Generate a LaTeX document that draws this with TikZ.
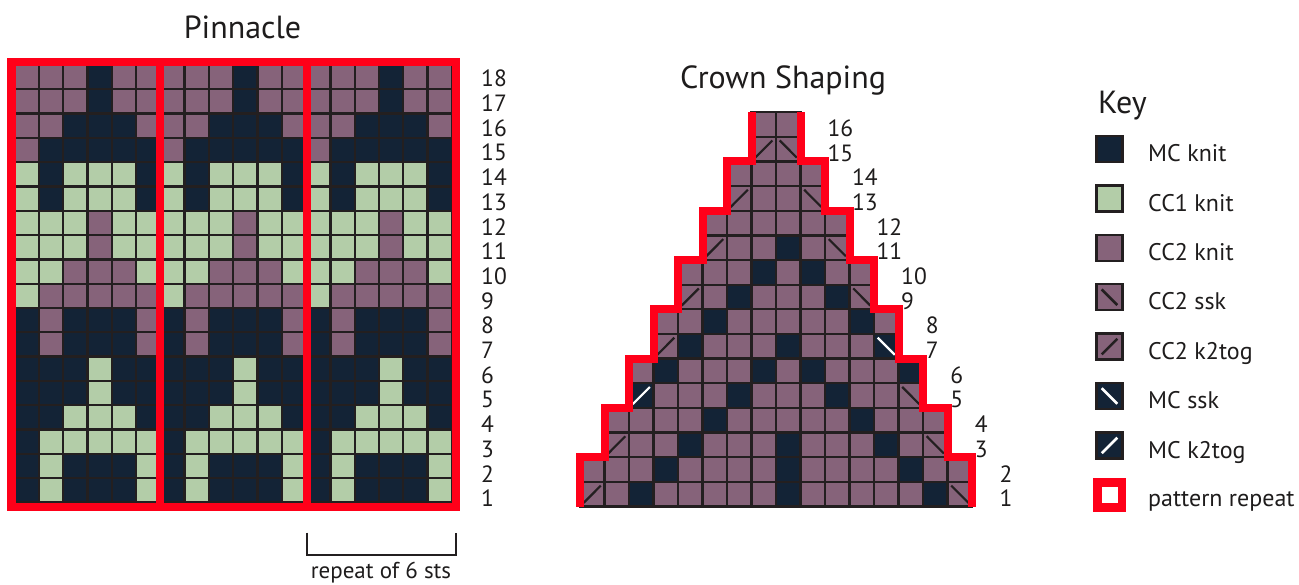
\documentclass[tikz,border=0pt]{standalone}
\usepackage{fontspec}
\setmainfont{PT Sans}
\definecolor{kM}{RGB}{19,35,54}
\definecolor{kG}{RGB}{179,205,168}
\definecolor{kP}{RGB}{134,99,122}
\definecolor{gridc}{RGB}{35,31,32}
\definecolor{rep}{RGB}{255,0,25}
\definecolor{txt}{RGB}{30,28,28}
\begin{document}
\begin{tikzpicture}[x=1pt,y=-1pt,
  cellbox/.style={draw=gridc,line width=2.3pt},
  redline/.style={draw=rep,line width=8pt,line join=miter},
  diagdark/.style={draw=gridc,line width=2.2pt},
  diaglight/.style={draw=white,line width=2.2pt},
  rowlbl/.style={anchor=west,inner sep=0pt,text=txt,font=\fontsize{23.5}{26}\selectfont},
  titletxt/.style={anchor=base,inner sep=0pt,text=txt,font=\fontsize{32}{36}\selectfont},
  keytxt/.style={anchor=base west,inner sep=0pt,text=txt,font=\fontsize{24}{27}\selectfont},
  smalltxt/.style={anchor=base,inner sep=0pt,text=txt,font=\fontsize{23}{26}\selectfont}]
\useasboundingbox (0,0) rectangle (1299,584);

% ---------- Pinnacle chart ----------
\foreach \r/\pat in {18/{P,P,P,M,P,P},17/{P,P,P,M,P,P},16/{P,P,M,M,M,P},15/{P,M,M,M,M,M},
  14/{G,M,G,G,G,M},13/{G,M,G,G,G,M},12/{G,G,G,P,G,G},11/{G,G,G,P,G,G},10/{G,G,P,P,P,G},
  9/{G,P,P,P,P,P},8/{M,P,M,M,M,P},7/{M,P,M,M,M,P},6/{M,M,M,G,M,M},5/{M,M,M,G,M,M},
  4/{M,M,G,G,G,M},3/{M,G,G,G,G,G},2/{M,G,M,M,M,G},1/{M,G,M,M,M,G}}{
  \foreach \rp in {0,1,2}{
    \foreach \c [count=\i] in \pat {
      \filldraw[cellbox,fill=k\c] ({14.5+(\rp*6+\i-1)*24.3},{65+(18-\r)*24.3}) rectangle ++(24.3,24.3);
    }
  }
}
\draw[redline,line width=8.2pt] (11.5,62) rectangle (455.9,507.3);
\draw[redline] (159.8,62) -- (159.8,507.3);
\draw[redline] (307.4,62) -- (307.4,507.3);
\foreach \r in {1,...,18}{
  \node[rowlbl] (L\r) at (481,{78.5+(18-\r)*24.7}) {\r};
}
\node[titletxt] (ptitle) at (242.5,38) {Pinnacle};

% bracket
\draw[gridc,line width=2pt] (306.7,532.7) -- (306.7,555) -- (455.7,555) -- (455.7,532.7);
\node[smalltxt] (reptxt) at (381,578) {repeat of 6 sts};

% ---------- Crown shaping ----------
\foreach \r in {1,...,16}{
  \pgfmathtruncatemacro\ca{(\r+1)/2}
  \pgfmathtruncatemacro\cb{17-\ca}
  \foreach \k in {\ca,...,\cb}{
    \filldraw[cellbox,fill=kP] ({580+(\k-1)*24.5},{506.5-\r*24.65}) rectangle ++(24.5,24.65);
  }
}
\foreach \r/\k in {1/3,1/9,1/15,2/4,2/9,2/14,3/5,3/9,3/13,4/6,4/12,5/3,5/7,5/11,
  6/4,6/8,6/10,6/14,7/5,7/9,7/13,8/6,8/12,9/7,9/11,10/8,10/10,11/9}{
  \filldraw[cellbox,fill=kM] ({580+(\k-1)*24.5},{506.5-\r*24.65}) rectangle ++(24.5,24.65);
}
% k2tog (/) on CC2
\foreach \r/\k in {1/1,3/2,7/4,9/5,11/6,13/7,15/8}{
  \draw[diagdark] ({580+(\k-1)*24.5+3.7},{506.5-(\r-1)*24.65-3.7}) -- ++(17.1,-17.2);
}
% ssk (\) on CC2
\foreach \r/\k in {1/16,3/15,5/14,9/12,11/11,13/10,15/9}{
  \draw[diagdark] ({580+(\k-1)*24.5+3.7},{506.5-\r*24.65+3.7}) -- ++(17.1,17.2);
}
% MC k2tog and MC ssk
\draw[diaglight] ({580+2*24.5+3.7},{506.5-4*24.65-3.7}) -- ++(17.1,-17.2);
\draw[diaglight] ({580+12*24.5+3.7},{506.5-7*24.65+3.7}) -- ++(17.1,17.2);

\draw[redline] (580,506.5) -- (580,457.2) -- (604.5,457.2) -- (604.5,407.9) -- (629,407.9)
  -- (629,358.6) -- (653.5,358.6) -- (653.5,309.3) -- (678,309.3) -- (678,260)
  -- (702.5,260) -- (702.5,210.7) -- (727,210.7) -- (727,161.4) -- (751.5,161.4) -- (751.5,112.1);
\draw[redline] (800.5,112.1) -- (800.5,161.4) -- (825,161.4) -- (825,210.7) -- (849.5,210.7)
  -- (849.5,260) -- (874,260) -- (874,309.3) -- (898.5,309.3) -- (898.5,358.6) -- (923,358.6)
  -- (923,407.9) -- (947.5,407.9) -- (947.5,457.2) -- (972,457.2) -- (972,506.5);

\foreach \r in {1,...,16}{
  \pgfmathtruncatemacro\kk{(\r+1)/2}
  \node[rowlbl] (C\r) at ({999.3-(\kk-1)*24.57},{498.3-(\r-1)*24.67}) {\r};
}
\node[titletxt] (ctitle) at (783,88) {Crown Shaping};

% ---------- Key ----------
\node[keytxt,font=\fontsize{32}{36}\selectfont] (keyt) at (1098,113.3) {Key};
\filldraw[cellbox,fill=kM] (1096.5,136) rectangle ++(26,26);
\node[keytxt] (k1) at (1148,161.7) {MC knit};
\filldraw[cellbox,fill=kG] (1096.5,185.4) rectangle ++(26,26);
\node[keytxt] (k2) at (1148,211.1) {CC1 knit};
\filldraw[cellbox,fill=kP] (1096.5,234.8) rectangle ++(26,26);
\node[keytxt] (k3) at (1148,260.5) {CC2 knit};
\filldraw[cellbox,fill=kP] (1096.5,284.2) rectangle ++(26,26);
\draw[diagdark,line width=2.6pt] (1101.7,289.4) -- ++(15.6,15.6);
\node[keytxt] (k4) at (1148,309.9) {CC2 ssk};
\filldraw[cellbox,fill=kP] (1096.5,333.6) rectangle ++(26,26);
\draw[diagdark,line width=2.6pt] (1101.7,354.4) -- ++(15.6,-15.6);
\node[keytxt] (k5) at (1148,359.3) {CC2 k2tog};
\filldraw[cellbox,fill=kM] (1096.5,383) rectangle ++(26,26);
\draw[diaglight,line width=2.6pt] (1101.7,388.2) -- ++(15.6,15.6);
\node[keytxt] (k6) at (1148,408.7) {MC ssk};
\filldraw[cellbox,fill=kM] (1096.5,432.4) rectangle ++(26,26);
\draw[diaglight,line width=2.6pt] (1101.7,453.2) -- ++(15.6,-15.6);
\node[keytxt] (k7) at (1148,458.1) {MC k2tog};
\filldraw[draw=rep,fill=white,line width=8.3pt] (1097.5,482.5) rectangle (1121.8,507.5);
\node[keytxt] (k8) at (1148,506.5) {pattern repeat};
\end{tikzpicture}
\end{document}
